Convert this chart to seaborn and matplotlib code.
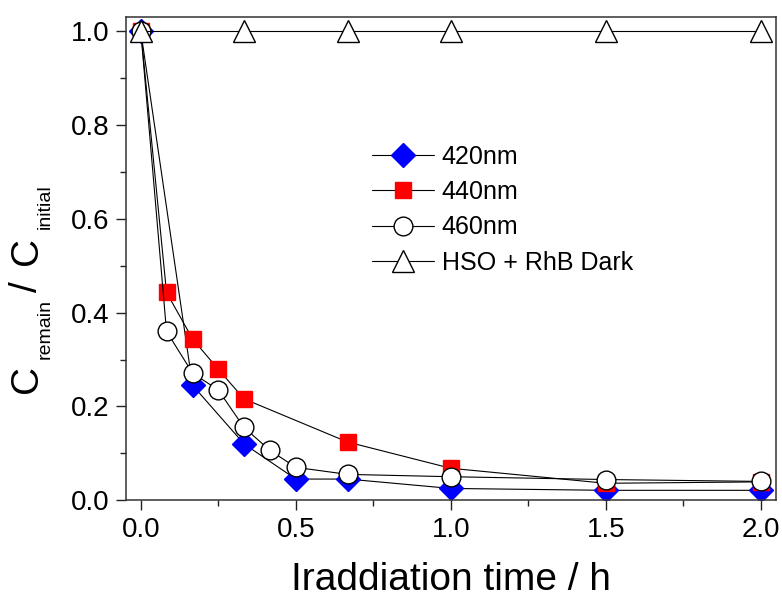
import numpy as np
import pandas as pd
import seaborn as sns
import matplotlib
matplotlib.use("Agg")
import matplotlib.pyplot as plt
from matplotlib.ticker import MultipleLocator, FormatStrFormatter
from matplotlib.transforms import IdentityTransform

# Irradiation time (h) and remaining fraction of RhB for each condition
t_420 = [0.0, 0.167, 0.333, 0.5, 0.667, 1.0, 1.5, 2.0]
c_420 = [1.0, 0.245, 0.120, 0.045, 0.045, 0.025, 0.021, 0.021]

t_440 = [0.0, 0.083, 0.167, 0.25, 0.333, 0.667, 1.0, 1.5, 2.0]
c_440 = [1.0, 0.443, 0.344, 0.279, 0.216, 0.124, 0.068, 0.036, 0.039]

t_460 = [0.0, 0.083, 0.167, 0.25, 0.333, 0.417, 0.5, 0.667, 1.0, 1.5, 2.0]
c_460 = [1.0, 0.360, 0.271, 0.235, 0.155, 0.106, 0.070, 0.055, 0.050, 0.044, 0.040]

t_dark = [0.0, 0.333, 0.667, 1.0, 1.5, 2.0]
c_dark = [1.0, 1.0, 1.0, 1.0, 1.0, 1.0]

labels = ["420nm", "440nm", "460nm", "HSO + RhB Dark"]

sns.set_style("ticks")
plt.rcParams["font.family"] = ["Liberation Sans", "DejaVu Sans"]
plt.rcParams["text.color"] = "black"
plt.rcParams["axes.labelcolor"] = "black"
plt.rcParams["xtick.color"] = "black"
plt.rcParams["ytick.color"] = "black"

fig = plt.figure(figsize=(7.82, 5.99), dpi=100)
ax = fig.add_axes([0.161, 0.165, 0.831, 0.807])

series = [
    (t_420, c_420, labels[0], dict(marker="D", markersize=12.5, markerfacecolor="#0000ff",
                                   markeredgecolor="#0000ff")),
    (t_440, c_440, labels[1], dict(marker="s", markersize=12, markerfacecolor="#ff0000",
                                   markeredgecolor="#ff0000")),
    (t_460, c_460, labels[2], dict(marker="o", markersize=13.5, markerfacecolor="white",
                                   markeredgecolor="black")),
    (t_dark, c_dark, labels[3], dict(marker="^", markersize=16, markerfacecolor="white",
                                     markeredgecolor="black")),
]

for t, c, lab, mk in series:
    df = pd.DataFrame({"t": t, "c": c})
    sns.lineplot(data=df, x="t", y="c", ax=ax, color="black", linewidth=0.8,
                 markeredgewidth=1.0, label=lab, **mk)

ax.set_xlim(-0.048, 2.048)
ax.set_ylim(0.0, 1.031)
ax.xaxis.set_major_locator(MultipleLocator(0.5))
ax.xaxis.set_minor_locator(MultipleLocator(0.25))
ax.yaxis.set_major_locator(MultipleLocator(0.2))
ax.yaxis.set_minor_locator(MultipleLocator(0.1))
ax.xaxis.set_major_formatter(FormatStrFormatter("%.1f"))
ax.yaxis.set_major_formatter(FormatStrFormatter("%.1f"))

ax.tick_params(which="major", direction="out", length=7, width=1.0, labelsize=20,
               color="#222222", labelcolor="black", pad=5, top=False, right=False)
ax.tick_params(which="minor", direction="out", length=4, width=1.0,
               color="#222222", top=False, right=False)
for s in ax.spines.values():
    s.set_visible(True)
    s.set_linewidth(1.1)
    s.set_color("#333333")

ax.set_xlabel("Iraddiation time / h", fontsize=28, labelpad=14, color="black")
ax.set_ylabel("")

leg = ax.legend(loc="upper left", bbox_to_anchor=(0.378, 0.735), frameon=False,
                fontsize=18, handlelength=2.5, handletextpad=0.3, labelspacing=0.45,
                borderpad=0.0, borderaxespad=0.0, numpoints=1, labelcolor="black")

# y-axis label built from pieces: large C with smaller subscripts
pieces = [
    ("C", 28, 37, 206),
    ("remain", 14, 50, 240),
    ("/", 28, 37, 307),
    ("C", 28, 37, 334),
    ("initial", 14, 50, 370),
]
for txt, size, x_px, y_px in pieces:
    fig.text(x_px, y_px, txt, fontsize=size, rotation=90, rotation_mode="anchor",
             ha="left", va="baseline", color="black", transform=IdentityTransform())

fig.savefig("out.png", dpi=100)
